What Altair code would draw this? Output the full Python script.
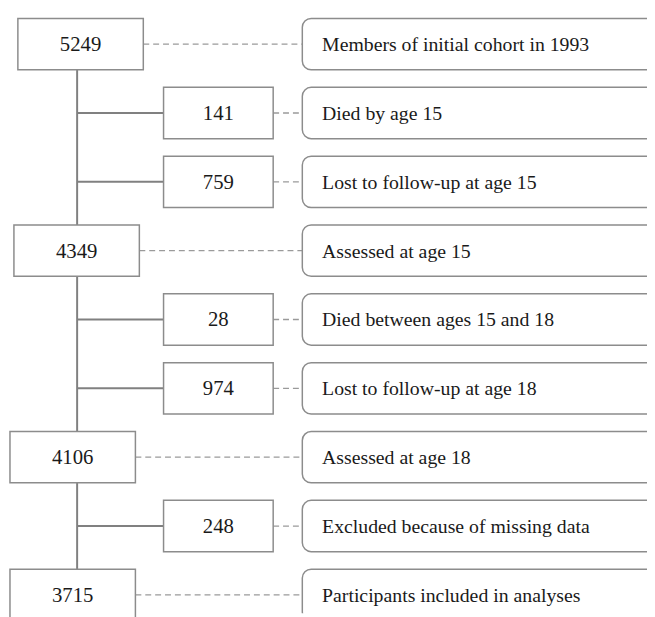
import altair as alt
import pandas as pd

# ---- data ----
counts = [5249, 141, 759, 4349, 28, 974, 4106, 248, 3715]
labels = [
    "Members of initial cohort in 1993",
    "Died by age 15",
    "Lost to follow-up at age 15",
    "Assessed at age 15",
    "Died between ages 15 and 18",
    "Lost to follow-up at age 18",
    "Assessed at age 18",
    "Excluded because of missing data",
    "Participants included in analyses",
]
kinds = ["main", "sub", "sub", "main", "sub", "sub", "main", "sub", "main"]

# ---- layout (pixels in plot coordinates) ----
W, H = 647, 609
main_left = [10, 6, 2, 2]
main_w = 127
sub_left, sub_right = 157.5, 268.5
spine_x = 70
right_left = 298
label_x = 318
half_h = 0.373  # half box height in row units

rows = []
mi = 0
for i, (c, l, k) in enumerate(zip(counts, labels, kinds)):
    if k == "main":
        x1 = main_left[mi]
        x2 = x1 + main_w
        mi += 1
    else:
        x1, x2 = sub_left, sub_right
    rows.append(dict(row=i, count=str(c), label=l, kind=k, x1=x1, x2=x2,
                     xc=(x1 + x2) / 2, y1=i - half_h, y2=i + half_h,
                     spine=spine_x, rl=right_left, rr=W + 60, lx=label_x))
df = pd.DataFrame(rows)

xs = alt.Scale(domain=[0, W], range=[0, W], nice=False, zero=False)
ys = alt.Scale(domain=[-0.4706, 8.267], reverse=True, nice=False, zero=False)

base = alt.Chart(df)

spine = alt.Chart(pd.DataFrame({"x": [spine_x], "y": [0], "y2": [8]})).mark_rule(
    color="#808080", strokeWidth=2
).encode(
    x=alt.X("x:Q", scale=xs, axis=None),
    y=alt.Y("y:Q", scale=ys, axis=None),
    y2="y2:Q",
)

branches = base.transform_filter(alt.datum.kind == "sub").mark_rule(
    color="#808080", strokeWidth=2
).encode(
    x=alt.X("spine:Q", scale=xs, axis=None),
    x2="x1:Q",
    y=alt.Y("row:Q", scale=ys, axis=None),
)

dashes = base.mark_rule(color="#9a9a9a", strokeWidth=1.3, strokeDash=[6, 4]).encode(
    x=alt.X("x2:Q", scale=xs, axis=None),
    x2="rl:Q",
    y=alt.Y("row:Q", scale=ys, axis=None),
)

boxes = base.mark_rect(fill="white", stroke="#8c8c8c", strokeWidth=1.5).encode(
    x=alt.X("x1:Q", scale=xs, axis=None),
    x2="x2:Q",
    y=alt.Y("y1:Q", scale=ys, axis=None),
    y2="y2:Q",
)

rboxes = base.mark_rect(fill="white", stroke="#8c8c8c", strokeWidth=1.5,
                        cornerRadius=9, clip=True).encode(
    x=alt.X("rl:Q", scale=xs, axis=None),
    x2="rr:Q",
    y=alt.Y("y1:Q", scale=ys, axis=None),
    y2="y2:Q",
)

nums = base.mark_text(font="Liberation Serif", fontSize=21, color="#1a1a1a",
                      align="center", baseline="middle", dy=1).encode(
    x=alt.X("xc:Q", scale=xs, axis=None),
    y=alt.Y("row:Q", scale=ys, axis=None),
    text="count:N",
)

texts = base.mark_text(font="Liberation Serif", fontSize=20, color="#1a1a1a",
                       align="left", baseline="middle", dy=1).encode(
    x=alt.X("lx:Q", scale=xs, axis=None),
    y=alt.Y("row:Q", scale=ys, axis=None),
    text="label:N",
)

chart = alt.layer(spine, branches, dashes, boxes, rboxes, nums, texts).properties(
    width=W, height=H, padding=0,
    autosize=alt.AutoSizeParams(type="none"),
).configure_view(stroke=None)

chart.save("out.html", embed_options={"renderer": "svg", "actions": False})
